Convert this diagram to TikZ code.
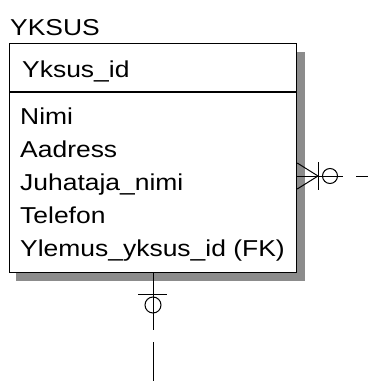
\documentclass[tikz,border=0pt]{standalone}
\usepackage{fontspec}
\setmainfont{Liberation Sans}[FakeStretch=1.15]
\usetikzlibrary{positioning,calc}
\definecolor{shadowgray}{HTML}{8C8C8C}

\begin{document}
\begin{tikzpicture}[x=1pt, y=-1pt,
    font=\fontsize{23}{33}\selectfont,
    entitybox/.style={draw=black, line width=1.2pt, fill=white, inner sep=0pt, anchor=north west},
    attrtext/.style={anchor=base west, inner sep=0pt},
    relline/.style={line width=1pt},
    reldash/.style={line width=1pt}]
\useasboundingbox (0,0) rectangle (368,381);
% shadow
\fill[shadowgray] (297,52) rectangle (305,281);
\fill[shadowgray] (16,273) rectangle (305,281);
% entity YKSUS
\node[attrtext] (yksusTitle) at (10,35) {YKSUS};
\node[entitybox, minimum width=287pt, minimum height=229pt] (yksus) at (9,43) {};
\draw[line width=1.2pt] (yksus.west |- 0,92) -- (yksus.east |- 0,92);
\node[attrtext] (yksusId) at (22,77) {Yksus\_id};
\node[attrtext] (nimi) at (20,124) {Nimi};
\node[attrtext, below=33pt of nimi.base west, anchor=base west] (aadress) {Aadress};
\node[attrtext, below=33pt of aadress.base west, anchor=base west] (juhataja) {Juhataja\_nimi};
\node[attrtext, below=33pt of juhataja.base west, anchor=base west] (telefon) {Telefon};
\node[attrtext, below=33pt of telefon.base west, anchor=base west] (ylemus) {Ylemus\_yksus\_id (FK)};
% relationship to the right (zero or many)
\coordinate (rStart) at (yksus.east |- 0,176);
\coordinate (rFoot) at (318,176);
\coordinate (rEnd) at (343,176);
\draw[relline] (rStart) -- (rEnd);
\draw[relline] ($(rStart)+(0,-13)$) -- (rFoot) -- ($(rStart)+(0,13)$);
\draw[relline] ($(rFoot)+(0,-14)$) -- ($(rFoot)+(0,14)$);
\draw[relline] (330,176) circle (7.5);
\draw[reldash] (356,176) -- (368,176);
% relationship below (zero or one)
\coordinate (bStart) at (yksus.south -| 153,0);
\coordinate (bEnd) at (153,330);
\draw[relline] (bStart) -- (bEnd);
\draw[relline] (138,294) -- (167,294);
\draw[relline] (153,305) circle (8);
\draw[reldash] (153,342) -- (153,381);
\end{tikzpicture}
\end{document}
